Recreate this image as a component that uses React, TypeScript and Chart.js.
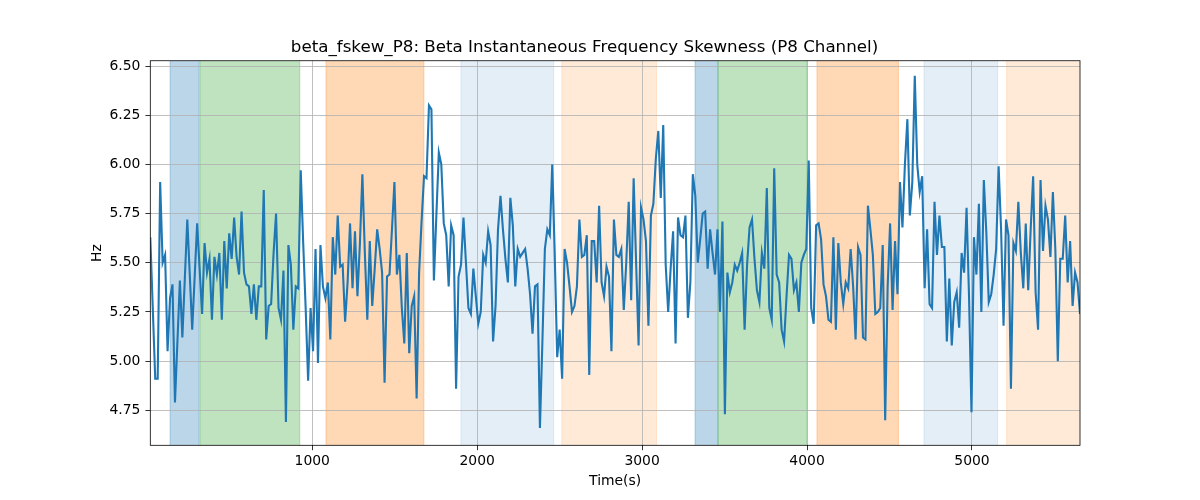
import { useEffect, useRef } from 'react'
import { Chart, registerables } from 'chart.js'

Chart.register(...registerables)

// sampling window of the recording (seconds)
const T_FIRST = 18
const T_LAST = 5655

// beta instantaneous frequency skewness, P8 channel (Hz), one value per sample
const SKEW_HZ = [
  5.63, 5.27, 4.91, 4.91, 5.91, 5.5, 5.54, 5.05, 5.32, 5.39, 4.79, 5.1, 5.41, 5.12, 5.42, 5.72,
  5.44, 5.16, 5.43, 5.7, 5.47, 5.24, 5.6, 5.45, 5.52, 5.21, 5.53, 5.44, 5.55, 5.21, 5.61, 5.37,
  5.65, 5.52, 5.73, 5.53, 5.44, 5.76, 5.45, 5.39, 5.38, 5.24, 5.39, 5.21, 5.38, 5.38, 5.87, 5.11,
  5.28, 5.29, 5.55, 5.75, 5.27, 5.21, 5.46, 4.69, 5.59, 5.49, 5.16, 5.38, 5.37, 5.97, 5.6,
  5.27, 4.9, 5.27, 5.05, 5.57, 4.99, 5.59, 5.38, 5.32, 5.4, 5.11, 5.63, 5.44, 5.74, 5.48, 5.49,
  5.2, 5.4, 5.7, 5.37, 5.66, 5.33, 5.6, 5.95, 5.55, 5.21, 5.61, 5.28, 5.47, 5.67, 5.57, 5.45,
  4.89, 5.43, 5.44, 5.67, 5.91, 5.44, 5.54, 5.27, 5.09, 5.55, 5.04, 5.28, 5.33, 4.81, 5.45, 5.71,
  5.94, 5.93, 6.3, 6.28, 5.41, 5.74, 6.06, 6.0, 5.7, 5.64, 5.38, 5.69, 5.64, 4.86, 5.43,
  5.49, 5.73, 5.5, 5.27, 5.24, 5.47, 5.33, 5.19, 5.25, 5.54, 5.5, 5.66, 5.59, 5.1, 5.28, 5.67,
  5.84, 5.67, 5.52, 5.4, 5.83, 5.69, 5.38, 5.57, 5.53, 5.55, 5.57, 5.47, 5.34, 5.14, 5.38, 5.39,
  4.66, 5.1, 5.57, 5.67, 5.64, 6.0, 5.54, 5.02, 5.16, 4.91, 5.57, 5.5, 5.38, 5.25, 5.28, 5.38,
  5.72, 5.53, 5.54, 5.64, 4.93, 5.61, 5.61, 5.4, 5.79, 5.4, 5.33, 5.48, 5.43, 5.05, 5.72,
  5.54, 5.53, 5.57, 5.26, 5.5, 5.81, 5.31, 5.93, 5.5, 5.08, 5.78, 5.72, 5.61, 5.18, 5.74, 5.8,
  6.03, 6.17, 5.83, 6.2, 5.49, 5.25, 5.47, 5.66, 5.09, 5.73, 5.64, 5.63, 5.74, 5.22, 5.4, 5.95,
  5.84, 5.5, 5.62, 5.75, 5.76, 5.47, 5.67, 5.55, 5.44, 5.67, 5.25, 5.71, 4.73, 5.45, 5.35, 5.4,
  5.49, 5.46, 5.5, 5.55, 5.16, 5.49, 5.68, 5.72, 5.52, 5.36, 5.3, 5.55, 5.47, 5.88, 5.27,
  5.21, 5.98, 5.44, 5.4, 5.16, 5.1, 5.33, 5.54, 5.52, 5.36, 5.4, 5.25, 5.5, 5.54, 5.57, 6.02,
  5.27, 5.19, 5.69, 5.7, 5.62, 5.39, 5.33, 5.21, 5.2, 5.63, 5.16, 5.6, 5.4, 5.29, 5.4, 5.37,
  5.57, 5.38, 5.11, 5.58, 5.54, 5.12, 5.11, 5.79, 5.67, 5.54, 5.24, 5.25, 5.27, 5.59, 4.7, 5.38,
  5.7, 5.26, 5.61, 5.34, 5.91, 5.68, 6.0, 6.23, 5.74, 5.91, 6.45, 6.0, 5.86, 5.94, 5.37,
  5.67, 5.29, 5.27, 5.81, 5.54, 5.74, 5.58, 5.58, 5.1, 5.42, 5.08, 5.3, 5.35, 5.17, 5.55, 5.45,
  5.78, 5.33, 4.74, 5.63, 5.44, 5.8, 5.25, 5.92, 5.66, 5.3, 5.34, 5.44, 5.57, 5.99, 5.67, 5.18,
  5.72, 5.64, 4.86, 5.6, 5.56, 5.81, 5.55, 5.37, 5.7, 5.36, 5.67, 5.94, 5.35, 5.16, 5.92, 5.56,
  5.79, 5.72, 5.53, 5.86, 5.57, 5.0, 5.52, 5.52, 5.74, 5.4, 5.61, 5.28, 5.45, 5.4, 5.24,
]

// shaded epochs
const SPAN_STARTS = [138, 319, 1083, 1901, 2513, 3321, 3461, 4060, 4709, 5210]
const SPAN_ENDS = [314, 924, 1677, 2464, 3087, 3460, 4000, 4554, 5156, 5700]
const SPAN_KINDS = ['blue', 'green', 'orange', 'blueLight', 'orangeLight', 'blue', 'green', 'orange', 'blueLight', 'orangeLight']

const X_TICKS = [1000, 2000, 3000, 4000, 5000]
const Y_TICKS = [4.75, 5.0, 5.25, 5.5, 5.75, 6.0, 6.25, 6.5]
const Y_MIN = 4.572
const Y_MAX = 6.527

const spanColors: Record<string, string> = {
  blue: 'rgba(31,119,180,0.3)',
  green: 'rgba(44,160,44,0.3)',
  orange: 'rgba(255,127,14,0.3)',
  blueLight: 'rgba(31,119,180,0.12)',
  orangeLight: 'rgba(255,127,14,0.16)',
}

const FONT = 'DejaVu Sans'

export default function App() {
  const canvasRef = useRef<HTMLCanvasElement>(null)
  const chartRef = useRef<Chart | null>(null)

  useEffect(() => {
    document.body.style.margin = '0'
    if (!canvasRef.current) return
    if (chartRef.current) chartRef.current.destroy()

    const n = SKEW_HZ.length
    const points = SKEW_HZ.map((v, i) => ({
      x: T_FIRST + (i * (T_LAST - T_FIRST)) / (n - 1),
      y: v,
    }))

    chartRef.current = new Chart(canvasRef.current, {
      type: 'line',
      data: {
        datasets: [
          {
            data: points,
            borderColor: '#1f77b4',
            borderWidth: 2.1,
            pointRadius: 0,
            tension: 0,
          },
        ],
      },
      options: {
        responsive: false,
        animation: false,
        layout: { padding: { left: 89, right: 120, top: 0, bottom: 0 } },
        plugins: {
          legend: { display: false },
          tooltip: { enabled: false },
          title: {
            display: true,
            text: 'beta_fskew_P8: Beta Instantaneous Frequency Skewness (P8 Channel)',
            color: '#000',
            font: { family: FONT, size: 16.7, weight: 'normal' },
            padding: { top: 38, bottom: 2.7 },
          },
        },
        scales: {
          x: {
            type: 'linear',
            min: T_FIRST,
            max: T_LAST,
            afterBuildTicks: (scale) => {
              scale.ticks = X_TICKS.map((v) => ({ value: v }))
            },
            afterFit: (scale) => {
              scale.height = 54.7
            },
            grid: { color: '#b0b0b0', lineWidth: 0.8, tickColor: '#000', tickLength: 4.9 },
            border: { display: false },
            ticks: {
              color: '#000',
              font: { family: FONT, size: 13.9 },
              padding: 3,
              maxRotation: 0,
              autoSkip: false,
              callback: (v) => String(v),
            },
            title: {
              display: true,
              text: 'Time(s)',
              color: '#000',
              font: { family: FONT, size: 13.9 },
              padding: { top: 0, bottom: 10.7 },
            },
          },
          y: {
            type: 'linear',
            min: Y_MIN,
            max: Y_MAX,
            afterBuildTicks: (scale) => {
              scale.ticks = Y_TICKS.map((v) => ({ value: v }))
            },
            afterFit: (scale) => {
              scale.width = 61.3
            },
            grid: { color: '#b0b0b0', lineWidth: 0.8, tickColor: '#000', tickLength: 4.9 },
            border: { display: false },
            ticks: {
              color: '#000',
              font: { family: FONT, size: 13.9 },
              padding: 5,
              callback: (v) => Number(v).toFixed(2),
            },
            title: {
              display: true,
              text: 'Hz',
              color: '#000',
              font: { family: FONT, size: 13.9 },
              padding: { top: 0, bottom: 0 },
            },
          },
        },
      },
      plugins: [
        {
          id: 'epochSpans',
          beforeDraw: (chart) => {
            const { ctx, chartArea, scales } = chart
            ctx.save()
            ctx.beginPath()
            ctx.rect(chartArea.left, chartArea.top, chartArea.width, chartArea.height)
            ctx.clip()
            SPAN_STARTS.forEach((s, i) => {
              const x0 = scales.x.getPixelForValue(s)
              const x1 = scales.x.getPixelForValue(SPAN_ENDS[i])
              const c = spanColors[SPAN_KINDS[i]]
              ctx.fillStyle = c
              ctx.fillRect(x0, chartArea.top, x1 - x0, chartArea.height)
              ctx.strokeStyle = c
              ctx.lineWidth = 1
              ctx.beginPath()
              ctx.moveTo(x0, chartArea.top)
              ctx.lineTo(x0, chartArea.bottom)
              ctx.moveTo(x1, chartArea.top)
              ctx.lineTo(x1, chartArea.bottom)
              ctx.stroke()
            })
            ctx.restore()
          },
        },
        {
          id: 'frame',
          afterDatasetsDraw: (chart) => {
            const { ctx, chartArea } = chart
            ctx.save()
            ctx.strokeStyle = '#000'
            ctx.lineWidth = 0.8
            ctx.strokeRect(chartArea.left, chartArea.top, chartArea.width, chartArea.height)
            ctx.restore()
          },
        },
      ],
    })

    return () => {
      if (chartRef.current) {
        chartRef.current.destroy()
        chartRef.current = null
      }
    }
  }, [])

  return <canvas ref={canvasRef} width={1200} height={500} style={{ display: 'block' }} />
}
